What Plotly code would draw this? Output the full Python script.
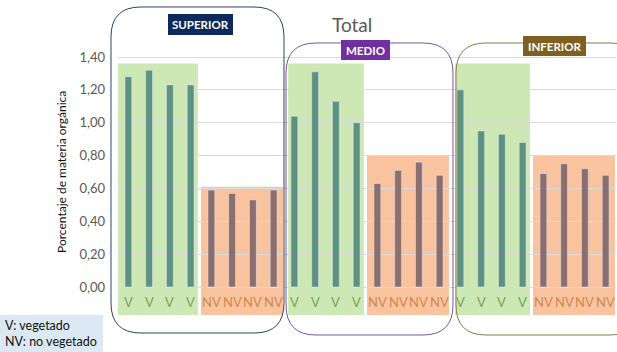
import plotly.graph_objects as go

# ---- data ----
zones = ["SUPERIOR", "MEDIO", "INFERIOR"]
v_values = [[1.28, 1.32, 1.23, 1.23],
            [1.04, 1.31, 1.13, 1.00],
            [1.20, 0.95, 0.93, 0.88]]
nv_values = [[0.59, 0.57, 0.53, 0.59],
             [0.63, 0.71, 0.76, 0.68],
             [0.69, 0.75, 0.72, 0.68]]
v_label = "V"
nv_label = "NV"
tick_vals = [0.0, 0.2, 0.4, 0.6, 0.8, 1.0, 1.2, 1.4]
green_tops = [1.36, 1.36, 1.36]
orange_tops = [0.61, 0.80, 0.80]

# ---- layout geometry (pixels) ----
W, H = 617, 352
L, R, T, B = 118, 1, 40, 32
PW, PH = W - L - R, H - T - B

def px(x):
    return (x - L) / PW

def py(y):
    return (H - B - y) / PH

V_COLOR = "#5f9183"
NV_COLOR = "#8c6e6e"
GREEN_BG = "#cde8b5"
ORANGE_BG = "#f8c39e"

fig = go.Figure()

vx, vy, nx, ny = [], [], [], []
for g in range(3):
    for i, val in enumerate(v_values[g]):
        vx.append(g * 8 + i)
        vy.append(val)
    for i, val in enumerate(nv_values[g]):
        nx.append(g * 8 + 4 + i)
        ny.append(val)

fig.add_trace(go.Bar(x=vx, y=vy, marker_color=V_COLOR, width=0.33, name=v_label))
fig.add_trace(go.Bar(x=nx, y=ny, marker_color=NV_COLOR, width=0.33, name=nv_label))

shapes = []
annotations = []
green_starts = [-0.5, 7.7, 15.75]
for g in range(3):
    shapes.append(dict(type="rect", xref="x", yref="y", layer="below",
                       x0=green_starts[g], x1=g * 8 + 3.35, y0=-0.17, y1=green_tops[g],
                       fillcolor=GREEN_BG, line_width=0))
    shapes.append(dict(type="rect", xref="x", yref="y", layer="below",
                       x0=g * 8 + 3.5, x1=g * 8 + 7.45, y0=-0.17, y1=orange_tops[g],
                       fillcolor=ORANGE_BG, line_width=0))
    for i in range(4):
        annotations.append(dict(x=g * 8 + i, y=-0.09, xref="x", yref="y", text=v_label,
                                xanchor="center", yanchor="middle",
                                showarrow=False, font=dict(family="Lato", size=13, color="#77a557")))
        annotations.append(dict(x=g * 8 + 4 + i, y=-0.09, xref="x", yref="y", text=nv_label,
                                xanchor="center", yanchor="middle",
                                showarrow=False, font=dict(family="Lato", size=13, color="#cf8a4e")))

def rounded(x0, y0, x1, y1, r):
    def P(x, y):
        return f"{px(x):.5f},{py(y):.5f}"
    path = (f"M {P(x0 + r, y0)} L {P(x1 - r, y0)} Q {P(x1, y0)} {P(x1, y0 + r)} "
            f"L {P(x1, y1 - r)} Q {P(x1, y1)} {P(x1 - r, y1)} "
            f"L {P(x0 + r, y1)} Q {P(x0, y1)} {P(x0, y1 - r)} "
            f"L {P(x0, y0 + r)} Q {P(x0, y0)} {P(x0 + r, y0)} Z")
    return path

boxes = [((111, 7, 284, 333), "#34405e"),
         ((286, 43, 453, 335), "#7b55a0"),
         ((456, 43, 640, 335), "#8a7a45")]
for (x0, y0, x1, y1), col in boxes:
    shapes.append(dict(type="path", xref="paper", yref="paper", path=rounded(x0, y0, x1, y1, 30),
                       line=dict(color=col, width=1), layer="above"))

label_boxes = [((168, 14, 233, 35), "#0d2a5c", zones[0]),
               ((341, 40, 390, 60), "#7030a0", zones[1]),
               ((523, 36, 586, 56), "#7f6020", zones[2])]
for (x0, y0, x1, y1), col, txt in label_boxes:
    shapes.append(dict(type="rect", xref="paper", yref="paper", x0=px(x0), x1=px(x1),
                       y0=py(y1), y1=py(y0), fillcolor=col, line_width=0, layer="above"))
    annotations.append(dict(xref="paper", yref="paper", x=px((x0 + x1) / 2), y=py((y0 + y1) / 2),
                            xanchor="center", yanchor="middle",
                            text=f"<b>{txt}</b>", showarrow=False,
                            font=dict(family="Lato", size=11.5, color="white")))

# legend box
shapes.append(dict(type="rect", xref="paper", yref="paper", x0=px(0), x1=px(103),
                   y0=py(352), y1=py(315), fillcolor="#dce9f5", line_width=0, layer="above"))
annotations.append(dict(xref="paper", yref="paper", x=px(3), y=py(325), xanchor="left",
                        yanchor="middle", text="V: vegetado", showarrow=False,
                        font=dict(family="Lato", size=12.5, color="#111111")))
annotations.append(dict(xref="paper", yref="paper", x=px(3), y=py(341), xanchor="left",
                        yanchor="middle", text="NV: no vegetado", showarrow=False,
                        font=dict(family="Lato", size=12.5, color="#111111")))

# title
annotations.append(dict(xref="paper", yref="paper", x=px(352), y=py(25), text="Total",
                        xanchor="center", yanchor="middle",
                        showarrow=False, font=dict(family="Lato", size=19, color="#595959")))
# y title
annotations.append(dict(xref="paper", yref="paper", x=px(61), y=py(172), textangle=-90,
                        xanchor="center", yanchor="middle",
                        text="Porcentaje de materia orgánica", showarrow=False,
                        font=dict(family="Lato", size=12, color="#111111")))

y0_px, y14_px = 287, 57
per = (y0_px - y14_px) / 1.4
ymin = -(H - B - y0_px) / per
ymax = (y0_px - T) / per

fig.update_layout(
    width=W, height=H,
    margin=dict(l=L, r=R, t=T, b=B),
    paper_bgcolor="white", plot_bgcolor="white",
    showlegend=False, separators=",.",
    shapes=shapes, annotations=annotations,
    xaxis=dict(range=[-0.5, 23.5], showticklabels=False, showgrid=False, zeroline=False,
               fixedrange=True),
    yaxis=dict(range=[ymin, ymax], tickvals=tick_vals, tickformat=".2f", showgrid=True,
               gridcolor="#dadada", gridwidth=1, zeroline=False, ticks="",
               ticklabelstandoff=12,
               tickfont=dict(family="Lato", size=13, color="#595959")),
    bargap=0.6,
)

fig.write_html("out.html")
